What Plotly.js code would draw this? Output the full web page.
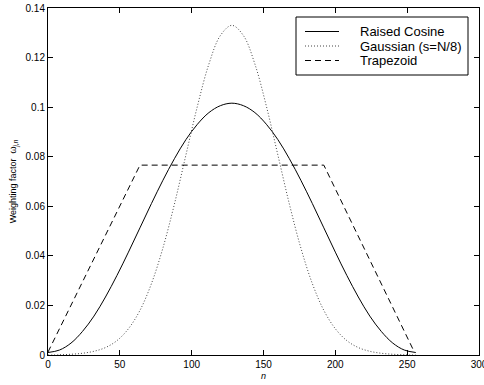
<!DOCTYPE html>
<html>
<head>
<meta charset="utf-8">
<script src="https://cdn.plot.ly/plotly-3.0.1.min.js"></script>
<style>html,body{margin:0;padding:0;background:#fff}#chart{width:484px;height:385px}</style>
</head>
<body>
<div id="chart"></div>
<script>
// sample index n
const nSamples = [0,8,16,24,32,40,48,56,64,72,80,88,96,104,112,120,128,136,144,152,160,168,176,184,192,200,208,216,224,232,240,248,256];
// Raised cosine weights
const raisedCosine = [0.0010,0.0020,0.0048,0.0095,0.0157,0.0234,0.0321,0.0415,0.0513,0.0611,0.0705,0.0792,0.0869,0.0931,0.0978,0.1006,0.1016,0.1006,0.0978,0.0931,0.0869,0.0792,0.0705,0.0611,0.0513,0.0415,0.0321,0.0234,0.0157,0.0095,0.0048,0.0020,0.0010];
// Gaussian (s=N/8) weights
const gaussian = [0.0000,0.0001,0.0003,0.0007,0.0015,0.0030,0.0058,0.0106,0.0180,0.0288,0.0432,0.0609,0.0807,0.1004,0.1174,0.1289,0.1330,0.1289,0.1174,0.1004,0.0807,0.0609,0.0432,0.0288,0.0180,0.0106,0.0058,0.0030,0.0015,0.0007,0.0003,0.0001,0.0000];
// Trapezoid corner points
const trapN = [0,64,192,255];
const trapezoid = [0.0012,0.0766,0.0766,0.0012];
// axis ticks
const xTicks = [0,50,100,150,200,250,300];
const yTicks = [0,0.02,0.04,0.06,0.08,0.1,0.12,0.14];
const yTickText = ['0','0.02','0.04','0.06','0.08','0.1','0.12','0.14'];
// legend labels
const seriesNames = ['Raised Cosine','Gaussian (s=N/8)','Trapezoid'];

const FONT = 'Liberation Sans, Arial, Helvetica, sans-serif';
const styles = [
  {color:'#000', width:1, dash:'solid'},
  {color:'#444', width:1, dash:'1px,2px'},
  {color:'#000', width:1, dash:'6px,4px'}
];

const traces = [
  {x:nSamples, y:raisedCosine, mode:'lines', name:seriesNames[0], line:Object.assign({shape:'spline', smoothing:1}, styles[0])},
  {x:nSamples, y:gaussian, mode:'lines', name:seriesNames[1], line:Object.assign({shape:'spline', smoothing:1}, styles[1])},
  {x:trapN, y:trapezoid, mode:'lines', name:seriesNames[2], line:styles[2]}
];

// plot area in pixels
const M = {l:48, r:5, t:8, b:30};
const W = 484, H = 385;
const pw = W - M.l - M.r, ph = H - M.t - M.b;
const px = v => (v - M.l) / pw;          // pixel x -> paper
const py = v => (H - M.b - v) / ph;      // pixel y -> paper

// manual legend (box, samples, labels)
const legBox = {x0:296, x1:468, y0:17, y1:75};
const rowY = [31.5, 46, 60.5];
const shapes = [{type:'rect', xref:'paper', yref:'paper', x0:px(legBox.x0), x1:px(legBox.x1), y0:py(legBox.y1), y1:py(legBox.y0),
  line:{color:'#000', width:1}, fillcolor:'#fff', layer:'above'}];
const annotations = [];
seriesNames.forEach((nm, i) => {
  shapes.push({type:'line', xref:'paper', yref:'paper', x0:px(305), x1:px(339), y0:py(rowY[i]), y1:py(rowY[i]),
    line:{color:styles[i].color, width:1, dash:styles[i].dash}, layer:'above'});
  annotations.push({xref:'paper', yref:'paper', x:px(359), y:py(rowY[i]), xanchor:'left', yanchor:'middle',
    text:nm, showarrow:false, borderpad:0, font:{family:FONT, size:13, color:'#000'}});
});

const axisCommon = {
  showline:true, linecolor:'#000', linewidth:1, mirror:'ticks',
  ticks:'inside', ticklen:5, tickwidth:1, tickcolor:'#000',
  showgrid:false, zeroline:false, ticklabeloverflow:'allow',
  tickfont:{family:FONT, size:10, color:'#000'}
};

const layout = {
  width:W, height:H,
  margin:M,
  paper_bgcolor:'#fff', plot_bgcolor:'#fff',
  font:{family:FONT, color:'#000'},
  showlegend:false,
  xaxis:Object.assign({}, axisCommon, {
    range:[0,300], tickvals:xTicks, ticktext:xTicks.map(String),
    title:{text:'<i>n</i>', font:{size:9}, standoff:3}
  }),
  yaxis:Object.assign({}, axisCommon, {
    range:[0,0.14], tickvals:yTicks, ticktext:yTickText,
    title:{text:'Weighting factor  ω<sub><i>j,n</i></sub>', font:{size:9}, standoff:7}
  }),
  shapes:shapes,
  annotations:annotations
};

Plotly.newPlot('chart', traces, layout, {staticPlot:true, displayModeBar:false});
</script>
</body>
</html>
